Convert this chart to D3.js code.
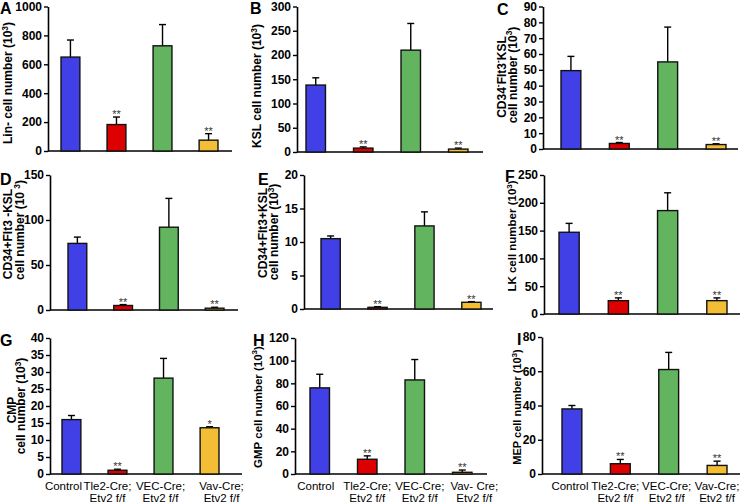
<!DOCTYPE html>
<meta charset="utf-8">
<style>
body { margin: 0; background: #fff; }
text { font-family: Arial, "Liberation Sans", sans-serif; }
</style>
<svg width="743" height="503"></svg>
<script src="https://d3js.org/d3.v7.min.js"></script>
<script>
// groups (same order in every panel)
var groups = ["Control", "Tle2-Cre; Etv2 f/f", "VEC-Cre; Etv2 f/f", "Vav-Cre; Etv2 f/f"]
var groupColors = ["#4040e6", "#dc0000", "#62b45e", "#f3be35"]
var xLabelsG = [["Control"], ["Tle2-Cre;", "Etv2 f/f"], ["VEC-Cre;", "Etv2 f/f"], ["Vav-Cre;", "Etv2 f/f"]]
var xLabelsH = [["Control"], ["Tle2-Cre;", "Etv2 f/f"], ["VEC-Cre;", "Etv2 f/f"], ["Vav- Cre;", "Etv2 f/f"]]

// means and upper error (SEM), x10^3 cells
var linMean = [650, 183, 728, 75],    linErr = [118, 52, 147, 45]
var kslMean = [138, 8, 210, 6],       kslErr = [15, 2.5, 55, 2]
var cd34nMean = [49.5, 3.5, 55, 2.8], cd34nErr = [9, 0.6, 22, 0.5]
var cd34pMean = [74, 5, 92, 2],       cd34pErr = [7, 1, 32, 1]
var flt3pMean = [10.5, 0.25, 12.4, 1.0], flt3pErr = [0.4, 0.1, 2.1, 0.1]
var lkMean = [147, 24, 186, 24],      lkErr = [16, 5, 32, 5]
var cmpMean = [16, 1.1, 28.2, 13.6],  cmpErr = [1.2, 0.3, 5.8, 0.3]
var gmpMean = [76, 13, 83, 1.5],      gmpErr = [12, 3, 18, 2]
var mepMean = [38, 6, 61, 5],         mepErr = [2, 2.5, 10, 2.5]

var starsMain = ["", "**", "", "**"]
var starsCmp = ["", "**", "", "*"]

// y axis ranges: [max, step]
var axisA = [1000, 200], axisB = [300, 50], axisC = [90, 10]
var axisD = [150, 50], axisE = [20, 5], axisF = [250, 50]
var axisG = [40, 5], axisH = [120, 20], axisI = [80, 20]

var panels = [
  { letter: "A", mean: linMean, err: linErr, stars: starsMain, axis: axisA,
    label: ["Lin- cell number (10^3)"], fs: 12,
    pos: { x0: 48, x1: 232, b0: 61, b1: 218, top: 6.5, bot: 151, lx: [0, 14], tx: [8], ty: [83] } },
  { letter: "B", mean: kslMean, err: kslErr, stars: starsMain, axis: axisB,
    label: ["KSL cell number (10^3)"], fs: 12,
    pos: { x0: 297, x1: 483, b0: 306, b1: 468, top: 6.5, bot: 152, lx: [250, 14], tx: [257], ty: [86] } },
  { letter: "C", mean: cd34nMean, err: cd34nErr, stars: starsMain, axis: axisC,
    label: ["CD34^-Flt3^-KSL", "cell number (10^3)"], fs: 12,
    pos: { x0: 543, x1: 738, b0: 561, b1: 726, top: 6.5, bot: 149, lx: [497, 15], tx: [501.5, 512.5], ty: [77, 75] } },
  { letter: "D", mean: cd34pMean, err: cd34pErr, stars: starsMain, axis: axisD,
    label: ["CD34+Flt3 -KSL", "cell number (10 ^3)"], fs: 12,
    pos: { x0: 50, x1: 238, b0: 68, b1: 224, top: 175, bot: 310, lx: [0, 185], tx: [8, 20], ty: [234, 230] } },
  { letter: "E", mean: flt3pMean, err: flt3pErr, stars: starsMain, axis: axisE,
    label: ["CD34+Flt3+KSL", "cell number (10^3)"], fs: 12,
    pos: { x0: 304, x1: 493, b0: 321, b1: 481, top: 175, bot: 309, lx: [258, 185], tx: [262.5, 274], ty: [233, 232] } },
  { letter: "F", mean: lkMean, err: lkErr, stars: starsMain, axis: axisF,
    label: ["LK cell number (10^3)"], fs: 11.5,
    pos: { x0: 544, x1: 740, b0: 559, b1: 727, top: 175, bot: 314, lx: [505, 182], tx: [512], ty: [236] } },
  { letter: "G", mean: cmpMean, err: cmpErr, stars: starsCmp, axis: axisG,
    label: ["CMP", "cell number (10^3)"], fs: 12, xLabels: xLabelsG,
    pos: { x0: 50, x1: 242, b0: 62, b1: 219, top: 338, bot: 474, lx: [0, 346], tx: [12, 21], ty: [410, 406],
           xdx: [-8, -10, -3, 12] } },
  { letter: "H", mean: gmpMean, err: gmpErr, stars: starsMain, axis: axisH,
    label: ["GMP cell number (10^3)"], fs: 11.5, xLabels: xLabelsH,
    pos: { x0: 295, x1: 487, b0: 310, b1: 472, top: 338, bot: 474, lx: [253, 346], tx: [257.5], ty: [407],
           xdx: [-4, 0, 5, 12] } },
  { letter: "I", mean: mepMean, err: mepErr, stars: starsMain, axis: axisI,
    label: ["MEP cell number (10^3)"], fs: 11, xLabels: xLabelsG,
    pos: { x0: 542, x1: 740, b0: 562, b1: 727, top: 337, bot: 474, lx: [517, 345], tx: [517.5], ty: [407],
           xdx: [-2, -5, -2, 0] } }
]

var svg = d3.select("svg")

// write a label with ^x superscripts as tspans
function addRich(sel, str, fs) {
  var parts = str.split(/\^(.)/)
  var lift = 0
  parts.forEach(function (p, i) {
    if (p === "") return
    var ts = sel.append("tspan").text(p)
    if (i % 2 === 1) {
      ts.attr("dy", -fs * 0.38).attr("font-size", fs * 0.7)
      lift = fs * 0.38
    } else if (lift) {
      ts.attr("dy", lift)
      lift = 0
    }
  })
}

panels.forEach(function (p) {
  var pos = p.pos
  var g = svg.append("g")

  var x = d3.scaleBand().domain(groups).range([pos.b0, pos.b1])
    .paddingInner(0.59).paddingOuter(0)
  var y = d3.scaleLinear().domain([0, p.axis[0]]).range([pos.bot, pos.top])

  var ticks = d3.range(0, p.axis[0] + p.axis[1] / 2, p.axis[1])
  var yAxis = g.append("g")
    .attr("transform", "translate(" + pos.x0 + ",0)")
    .call(d3.axisLeft(y).tickValues(ticks).tickFormat(d3.format("d"))
      .tickSize(4).tickSizeOuter(0).tickPadding(2))
  yAxis.select(".domain").attr("stroke-width", 1.6)
  yAxis.selectAll(".tick line").attr("stroke-width", 1.4)
  yAxis.selectAll(".tick text")
    .attr("font-family", "Arial, 'Liberation Sans', sans-serif")
    .attr("font-size", 12).attr("font-weight", "bold").attr("fill", "#000")

  // x baseline
  g.append("line")
    .attr("x1", pos.x0).attr("x2", pos.x1)
    .attr("y1", y(0)).attr("y2", y(0))
    .attr("stroke", "#000").attr("stroke-width", 1.6)

  // error bars (upper only)
  var cx = function (d, i) { return x(groups[i]) + x.bandwidth() / 2 }
  g.selectAll(".eb").data(p.mean).enter().append("line")
    .attr("x1", cx).attr("x2", cx)
    .attr("y1", function (d) { return y(d) })
    .attr("y2", function (d, i) { return y(d + p.err[i]) })
    .attr("stroke", "#000").attr("stroke-width", 1.4)
  g.selectAll(".cap").data(p.mean).enter().append("line")
    .attr("x1", function (d, i) { return cx(d, i) - 3.5 })
    .attr("x2", function (d, i) { return cx(d, i) + 3.5 })
    .attr("y1", function (d, i) { return y(d + p.err[i]) })
    .attr("y2", function (d, i) { return y(d + p.err[i]) })
    .attr("stroke", "#000").attr("stroke-width", 1.4)

  // bars
  g.selectAll(".bar").data(p.mean).enter().append("rect")
    .attr("x", function (d, i) { return x(groups[i]) })
    .attr("width", x.bandwidth())
    .attr("y", function (d) { return y(d) })
    .attr("height", function (d) { return y(0) - y(d) })
    .attr("fill", function (d, i) { return groupColors[i] })
    .attr("stroke", "#111").attr("stroke-width", 1.4)

  // significance stars
  p.stars.forEach(function (s, i) {
    if (!s) return
    g.append("text")
      .attr("x", cx(0, i))
      .attr("y", y(p.mean[i] + p.err[i]) + 1)
      .attr("text-anchor", "middle")
      .attr("font-size", 11).attr("fill", "#333")
      .text(s)
  })

  // panel letter
  g.append("text")
    .attr("x", pos.lx[0]).attr("y", pos.lx[1])
    .attr("font-size", 16).attr("font-weight", "bold")
    .text(p.letter)

  // y label
  p.label.forEach(function (line, k) {
    var t = g.append("text")
      .attr("transform", "translate(" + pos.tx[k] + "," + pos.ty[k] + ") rotate(-90)")
      .attr("y", p.fs * 0.35)
      .attr("text-anchor", "middle")
      .attr("font-size", p.fs).attr("font-weight", "bold")
    addRich(t, line, p.fs)
  })

  // category labels
  if (p.xLabels) {
    p.xLabels.forEach(function (lines, i) {
      lines.forEach(function (s, k) {
        g.append("text")
          .attr("x", cx(0, i) + pos.xdx[i])
          .attr("y", 490 + k * 12)
          .attr("text-anchor", "middle")
          .attr("font-size", 11.5)
          .text(s)
      })
    })
  }
})
</script>
